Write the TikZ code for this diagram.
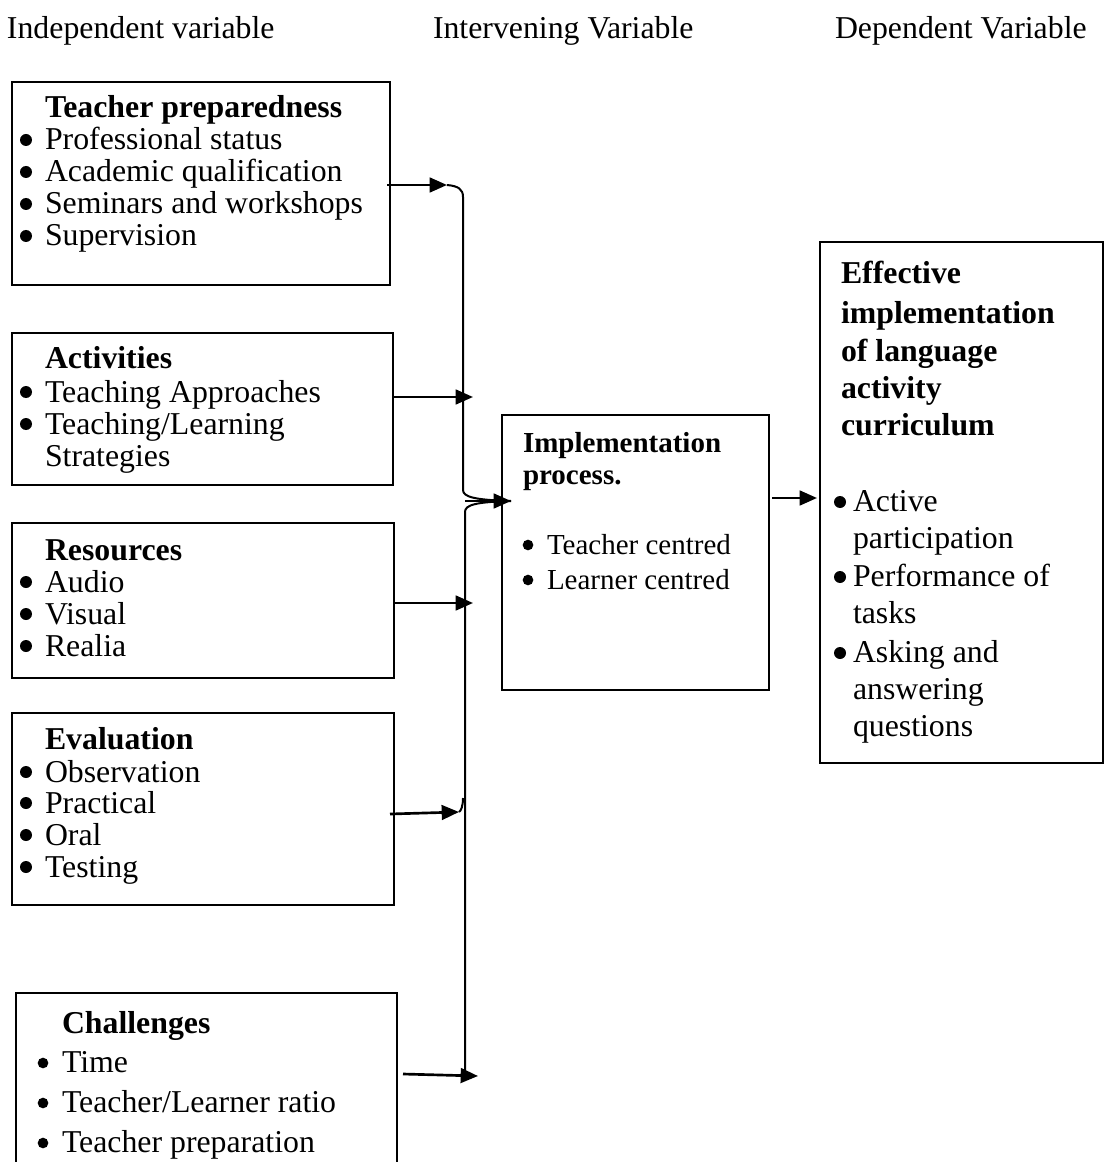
\documentclass[tikz,border=0pt]{standalone}
\usepackage{fontspec}
\setmainfont{Liberation Serif}
\usetikzlibrary{arrows.meta}
\newcommand\bigf{\fontsize{23.85pt}{26pt}\selectfont}
\newcommand\midf{\fontsize{21.75pt}{24pt}\selectfont}
\tikzset{
  box/.style={draw, line width=1.1pt, rectangle, inner sep=0pt, outer sep=0pt, anchor=north west},
  t/.style={anchor=base west, inner sep=0pt, outer sep=0pt, yshift=-1.5pt, font=\bigf},
  tb/.style={t, font=\bigf\bfseries},
  tm/.style={anchor=base west, inner sep=0pt, outer sep=0pt, yshift=-1.5pt, font=\midf},
  tmb/.style={tm, font=\midf\bfseries},
  bul/.style={circle, fill=black, draw=none, inner sep=0pt, minimum size=9pt},
  bulm/.style={circle, fill=black, draw=none, inner sep=0pt, minimum size=8pt},
  arr/.style={-{Triangle[length=13pt,width=11pt]}, line width=2pt},
  bus/.style={line width=1.5pt}
}
\begin{document}
\begin{tikzpicture}[x=0.75pt,y=-0.75pt]
\useasboundingbox (0,0) rectangle (1105,1162);
\clip (0,0) rectangle (1105,1162);
% headers
\node[t] (h1) at (7,37) {Independent variable};
\node[t] (h2) at (433,37) {Intervening Variable};
\node[t] (h3) at (835,37) {Dependent Variable};
% boxes
\node[box, minimum width=283.5pt, minimum height=152.25pt] (tp) at (12,82) {};
\node[box, minimum width=285.75pt, minimum height=114pt] (ac) at (12,333) {};
\node[box, minimum width=286.5pt, minimum height=116.25pt] (rs) at (12,523) {};
\node[box, minimum width=286.5pt, minimum height=144pt] (ev) at (12,713) {};
\node[box, minimum width=285.75pt, minimum height=155.25pt] (ch) at (16,993) {};
\node[box, minimum width=200.25pt, minimum height=206.25pt] (ip) at (502,415) {};
\node[box, minimum width=212.25pt, minimum height=390.75pt] (ef) at (820,242) {};
% box 1
\node[tb] (tph) at (45,116) {Teacher preparedness};
\node[bul] (tpb1) at (26,140) {}; \node[t] (tp1) at (45,148) {Professional status};
\node[bul] (tpb2) at (26,172) {}; \node[t] (tp2) at (45,180) {Academic qualification};
\node[bul] (tpb3) at (26,204) {}; \node[t] (tp3) at (45,212) {Seminars and workshops};
\node[bul] (tpb4) at (26,236) {}; \node[t] (tp4) at (45,244) {Supervision};
% box 2
\node[tb] (ach) at (45,366) {Activities};
\node[bul] (acb1) at (26,392) {}; \node[t] (ac1) at (45,400) {Teaching Approaches};
\node[bul] (acb2) at (26,424) {}; \node[t] (ac2) at (45,432) {Teaching/Learning};
\node[t] (ac3) at (45,464) {Strategies};
% box 3
\node[tb] (rsh) at (45,558) {Resources};
\node[bul] (rsb1) at (26,582) {}; \node[t] (rs1) at (45,590) {Audio};
\node[bul] (rsb2) at (26,614) {}; \node[t] (rs2) at (45,622) {Visual};
\node[bul] (rsb3) at (26,646) {}; \node[t] (rs3) at (45,654) {Realia};
% box 4
\node[tb] (evh) at (45,747) {Evaluation};
\node[bul] (evb1) at (26,772) {}; \node[t] (ev1) at (45,780) {Observation};
\node[bul] (evb2) at (26,803) {}; \node[t] (ev2) at (45,811) {Practical};
\node[bul] (evb3) at (26,835) {}; \node[t] (ev3) at (45,843) {Oral};
\node[bul] (evb4) at (26,867) {}; \node[t] (ev4) at (45,875) {Testing};
% box 5
\node[tb] (chh) at (62,1031) {Challenges};
\node[bulm] (chb1) at (43,1063) {}; \node[t] (ch1) at (62,1070) {Time};
\node[bulm] (chb2) at (43,1103) {}; \node[t] (ch2) at (62,1110) {Teacher/Learner ratio};
\node[bulm] (chb3) at (43,1143) {}; \node[t] (ch3) at (62,1150) {Teacher preparation};
% box 6
\node[tmb] (iph1) at (523,450) {Implementation};
\node[tmb] (iph2) at (523,482) {process.};
\node[bulm] (ipb1) at (528,545) {}; \node[tm] (ip1) at (547,552) {Teacher centred};
\node[bulm] (ipb2) at (528,580) {}; \node[tm] (ip2) at (547,587) {Learner centred};
% box 7
\node[tb] (efh1) at (841,282) {Effective};
\node[tb] (efh2) at (841,321) {implementation};
\node[tb] (efh3) at (841,359) {of language};
\node[tb] (efh4) at (841,396) {activity};
\node[tb] (efh5) at (841,433) {curriculum};
\node[bul] (efb1) at (840,502) {}; \node[t] (ef1) at (853,509) {Active};
\node[t] (ef2) at (853,546) {participation};
\node[bul] (efb2) at (840,577) {}; \node[t] (ef3) at (853,584) {Performance of};
\node[t] (ef4) at (853,621) {tasks};
\node[bul] (efb3) at (840,653) {}; \node[t] (ef5) at (853,660) {Asking and};
\node[t] (ef6) at (853,697) {answering};
\node[t] (ef7) at (853,734) {questions};
% connector points
\coordinate (a1s) at (387,185); \coordinate (a1e) at (447,185);
\coordinate (a2s) at (394,397); \coordinate (a2e) at (473,397);
\coordinate (a3s) at (394,603); \coordinate (a3e) at (473,603);
\coordinate (a4s) at (390,814); \coordinate (a4e) at (459,812);
\coordinate (a5s) at (403,1074); \coordinate (a5e) at (478,1076);
\coordinate (jx) at (465,501); \coordinate (je) at (511,501);
\coordinate (a6s) at (772,498); \coordinate (a6e) at (817,498);
\coordinate (bt) at (463,197); \coordinate (bm) at (463,490);
\coordinate (bl) at (465,512); \coordinate (bk) at (463,798); \coordinate (bb) at (465,1076);
% arrows
\draw[arr] (a1s) -- (a1e);
\draw[arr] (a2s) -- (a2e);
\draw[arr] (a3s) -- (a3e);
\draw[arr] (a4s) -- (a4e);
\draw[arr] (a5s) -- (a5e);
\draw[arr] (jx) -- (je);
\draw[arr] (a6s) -- (a6e);
% bus lines
\draw[bus] (a1e) .. controls (458,186) and (463,189) .. (bt) -- (bm) .. controls (463,497) and (475,500) .. (je);
\draw[bus] (je) .. controls (475,502) and (465,505) .. (bl) -- (bb);
\draw[bus] (a4e) .. controls (461,811) and (463,806) .. (bk);
\end{tikzpicture}
\end{document}
